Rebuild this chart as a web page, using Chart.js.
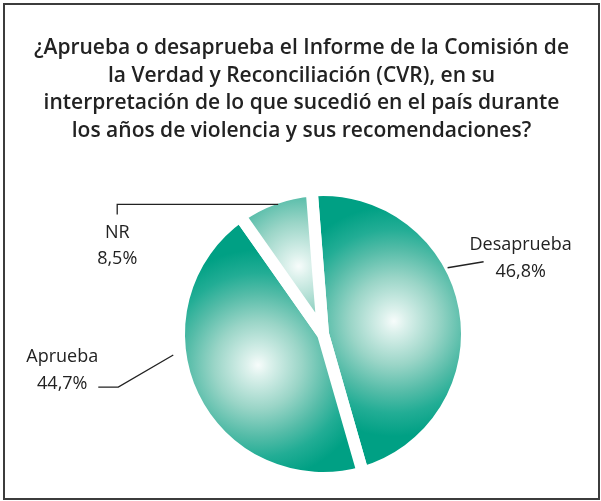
<!DOCTYPE html>
<html>
<head>
<meta charset="utf-8">
<script src="https://cdn.jsdelivr.net/npm/chart.js@4"></script>
<style>
html,body{margin:0;padding:0;background:#fff;}
canvas{display:block;}
</style>
</head>
<body>
<canvas id="c" width="601" height="501"></canvas>
<script>
const titleLines = [
  '¿Aprueba o desaprueba el Informe de la Comisión de',
  'la Verdad y Reconciliación (CVR), en su',
  'interpretación de lo que sucedió en el país durante',
  'los años de violencia y sus recomendaciones?'
];
const categories = ['Desaprueba', 'Aprueba', 'NR'];
const values = [46.8, 44.7, 8.5];
const valueLabels = ['46,8%', '44,7%', '8,5%'];

const FONT = '"Open Sans", "Noto Sans", sans-serif';

const gradientPlugin = {
  id: 'sphereGrad',
  beforeDatasetsDraw(chart) {
    const ctx = chart.ctx;
    const meta = chart.getDatasetMeta(0);
    meta.data.forEach((arc) => {
      const p = arc.getProps(['x', 'y', 'startAngle', 'endAngle', 'outerRadius']);
      const mid = (p.startAngle + p.endAngle) / 2;
      const hx = p.x + Math.cos(mid) * p.outerRadius * 0.5;
      const hy = p.y + Math.sin(mid) * p.outerRadius * 0.5;
      const g = ctx.createRadialGradient(hx, hy, 0, hx, hy, p.outerRadius * 0.8);
      g.addColorStop(0, '#f7fcfb');
      g.addColorStop(0.1, '#dcf1ec');
      g.addColorStop(0.38, '#9ad5c7');
      g.addColorStop(0.62, '#55bca8');
      g.addColorStop(0.8, '#22ad95');
      g.addColorStop(1, '#00a084');
      const o = Object.assign({}, arc.options);
      o.backgroundColor = g;
      arc.options = o;
    });
  }
};

const titlePlugin = {
  id: 'manualTitle',
  afterDraw(chart) {
    const ctx = chart.ctx;
    ctx.save();
    ctx.fillStyle = '#222';
    ctx.font = '600 21px ' + FONT;
    ctx.textAlign = 'center';
    ctx.textBaseline = 'middle';
    titleLines.forEach((t, i) => ctx.fillText(t, chart.width / 2 + 1, 48 + i * 27.7));
    ctx.restore();
  }
};

const labelPlugin = {
  id: 'pieLabels',
  afterDatasetsDraw(chart) {
    const ctx = chart.ctx;
    const meta = chart.getDatasetMeta(0);
    const a0 = meta.data[0].getProps(['x', 'y', 'outerRadius']);
    const cx = a0.x, cy = a0.y, R = a0.outerRadius;
    const edge = (deg, f) => {
      const r = deg * Math.PI / 180;
      return [cx + Math.sin(r) * R * f, cy - Math.cos(r) * R * f];
    };
    ctx.save();
    ctx.strokeStyle = '#222';
    ctx.lineWidth = 1.3;
    ctx.fillStyle = '#222';
    ctx.font = '18px ' + FONT;
    ctx.textAlign = 'center';
    ctx.textBaseline = 'middle';

    let s = edge(62, 0.98);
    ctx.beginPath();
    ctx.moveTo(s[0], s[1]);
    ctx.lineTo(s[0] + 36, s[1] - 6);
    ctx.stroke();
    ctx.fillText(categories[0], s[0] + 73, s[1] - 23);
    ctx.fillText(valueLabels[0], s[0] + 73, s[1] + 4);

    s = edge(262, 1.05);
    ctx.beginPath();
    ctx.moveTo(s[0], s[1]);
    ctx.lineTo(s[0] - 55, s[1] + 32);
    ctx.lineTo(s[0] - 75, s[1] + 32);
    ctx.stroke();
    ctx.fillText(categories[1], s[0] - 111, s[1] + 2);
    ctx.fillText(valueLabels[1], s[0] - 111, s[1] + 29);

    s = edge(340, 0.95);
    const lx = s[0] - 159;
    ctx.beginPath();
    ctx.moveTo(s[0] + 2, s[1] - 1);
    ctx.lineTo(lx, s[1] - 1);
    ctx.lineTo(lx, s[1] + 9);
    ctx.stroke();
    ctx.fillText(categories[2], lx, s[1] + 27);
    ctx.fillText(valueLabels[2], lx, s[1] + 53);
    ctx.restore();
  }
};

const framePlugin = {
  id: 'frame',
  afterDraw(chart) {
    const ctx = chart.ctx;
    ctx.save();
    ctx.strokeStyle = '#3c3c3c';
    ctx.lineWidth = 2;
    ctx.strokeRect(4, 4, 595, 495);
    ctx.restore();
  }
};

new Chart(document.getElementById('c'), {
  type: 'pie',
  data: {
    labels: categories,
    datasets: [{
      data: values,
      backgroundColor: '#00a084',
      borderColor: '#ffffff',
      borderWidth: 12,
      borderJoinStyle: 'bevel'
    }]
  },
  options: {
    responsive: false,
    animation: false,
    rotation: -4.5,
    events: [],
    layout: { padding: { left: 173, right: 128, top: 184, bottom: 17 } },
    plugins: {
      legend: { display: false },
      tooltip: { enabled: false },
      title: { display: false }
    }
  },
  plugins: [gradientPlugin, labelPlugin, titlePlugin, framePlugin]
});
</script>
</body>
</html>
